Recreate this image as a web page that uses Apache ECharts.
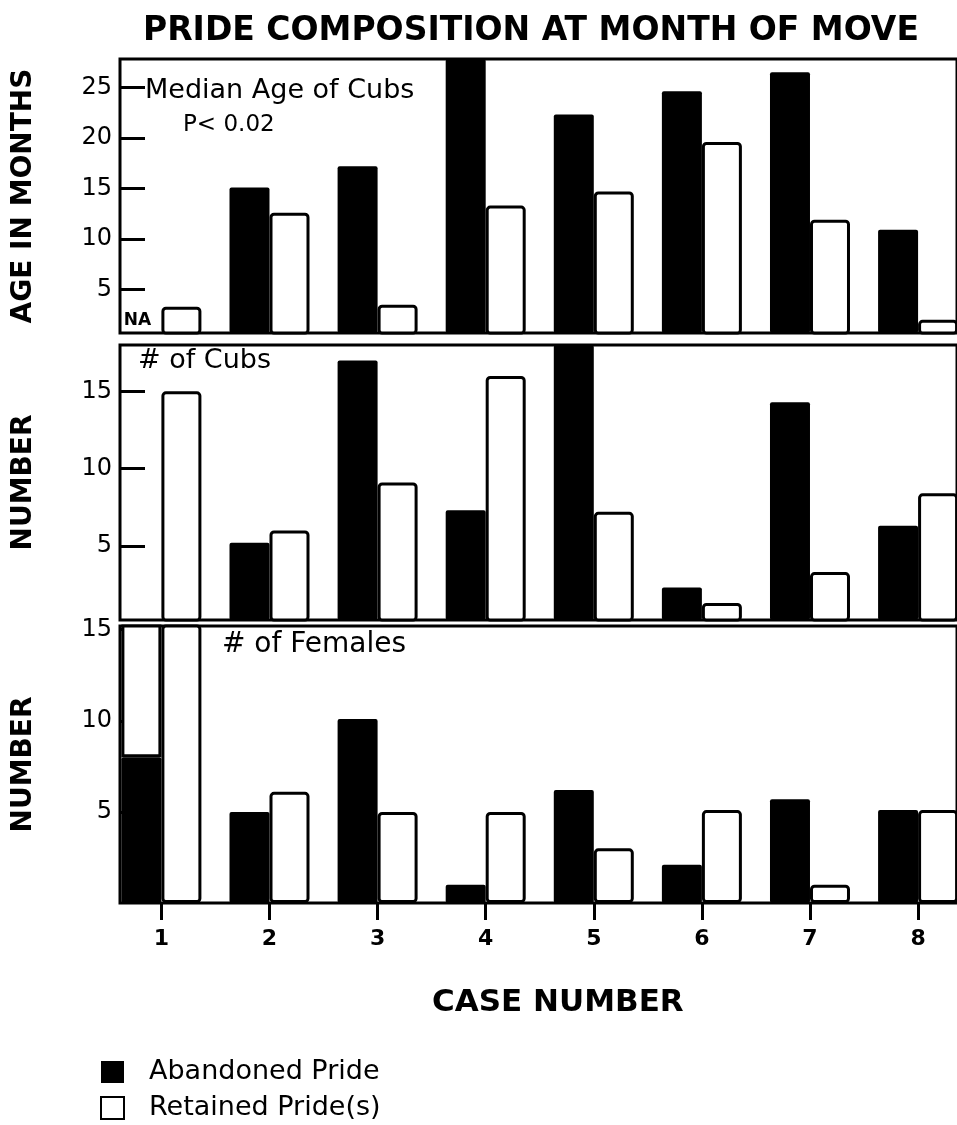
<!DOCTYPE html>
<html><head><meta charset="utf-8">
<script src="https://cdn.jsdelivr.net/npm/echarts@6/dist/echarts.min.js"></script>
<style>html,body{margin:0;padding:0;background:#fff}#c{width:957px;height:1125px}</style>
</head><body><div id="c"></div>
<script>
// ---- data ----
const cases = [1, 2, 3, 4, 5, 6, 7, 8];
const caseLabels = ['1', '2', '3', '4', '5', '6', '7', '8'];
// Median age of cubs (months); case 1 abandoned = NA
const ageAbandoned = [null, 15.1, 17.2, 29, 22.3, 24.6, 26.5, 10.9];
const ageRetained = [3.3, 12.6, 3.5, 13.3, 14.7, 19.6, 11.9, 2.0];
// Number of cubs
const cubsAbandoned = [0, 5.2, 17, 7.3, 19, 2.3, 14.3, 6.3];
const cubsRetained = [15, 6, 9.1, 16, 7.2, 1.3, 3.3, 8.4];
// Number of females
const femalesAbandoned = [8, 5, 10.1, 1, 6.2, 2.1, 5.7, 5.1];
const femalesAbandonedUpper = [9, null, null, null, null, null, null, null];
const femalesRetained = [16, 6.1, 5, 5, 3, 5.1, 1, 5.1];
// tick labels
const ageTicks = [5, 10, 15, 20, 25];
const cubTicks = [5, 10, 15];
const femaleTicks = [5, 10, 15];
const naLabel = 'NA';

const FONT = 'DejaVu Sans';
const BLACK = '#000';

// value first, case second (encode maps x <- dim 1, y <- dim 0)
function pairs(vals) { return cases.map((c, i) => [vals[i], c]); }
const ENC = { x: 1, y: 0 };

const grids = [
  { left: 120, top: 59, width: 845, height: 274 },
  { left: 120, top: 345, width: 845, height: 275 },
  { left: 120, top: 626, width: 845, height: 277 }
];
grids.forEach(g => { g.show = true; g.borderColor = BLACK; g.borderWidth = 3; g.backgroundColor = '#fff'; });

function xAx(i, showLabels) {
  return {
    type: 'value', gridIndex: i, min: 0.617, max: 8.36,
    axisLine: { show: false, onZero: false },
    splitLine: { show: false },
    axisTick: { show: showLabels, customValues: cases, length: 17, lineStyle: { color: BLACK, width: 3 } },
    axisLabel: {
      show: showLabels, customValues: cases, margin: 25,
      formatter: v => caseLabels[cases.indexOf(v)],
      fontSize: 22, fontWeight: 'bold', color: BLACK, fontFamily: FONT
    }
  };
}
function yAx(i, min, max, ticks, name) {
  return {
    type: 'value', gridIndex: i, min: min, max: max,
    axisLine: { show: false },
    splitLine: { show: false },
    axisTick: { show: true, inside: true, customValues: ticks, length: 25, lineStyle: { color: BLACK, width: 3 } },
    axisLabel: { customValues: ticks, margin: 8, fontSize: 24, color: BLACK, fontFamily: FONT },
    name: name, nameLocation: 'middle', nameRotate: 90, nameGap: 82,
    nameTextStyle: { fontSize: 28, fontWeight: 'bold', color: BLACK, fontFamily: FONT }
  };
}

const abStyle = { color: BLACK, borderRadius: 2 };
const reStyle = { color: '#fff', borderColor: BLACK, borderWidth: 3, borderRadius: 3 };
const BW = 40;

function bar(name, idx, vals, style, extra) {
  return Object.assign({
    name: name, type: 'bar', xAxisIndex: idx, yAxisIndex: idx,
    data: pairs(vals), encode: ENC, barWidth: BW, barGap: '0%', itemStyle: style,
    silent: true, animation: false
  }, extra || {});
}

const series = [
  bar('Abandoned Pride', 0, ageAbandoned, abStyle, {
    markPoint: { symbol: 'rect', symbolSize: 1, itemStyle: { color: 'transparent' },
      label: { show: true, formatter: naLabel, color: BLACK, fontSize: 17, fontWeight: 'bold', fontFamily: FONT, offset: [-4, 0] },
      data: [{ coord: [cases[0], 1.9] }] }
  }),
  bar('Retained Pride(s)', 0, ageRetained, reStyle),
  bar('Abandoned Pride', 1, cubsAbandoned, abStyle),
  bar('Retained Pride(s)', 1, cubsRetained, reStyle),
  bar('Abandoned Pride', 2, femalesAbandoned, abStyle, { stack: 'ab' }),
  bar('Abandoned Pride (upper)', 2, femalesAbandonedUpper, { color: '#fff', borderColor: BLACK, borderWidth: 3 }, { stack: 'ab' }),
  bar('Retained Pride(s)', 2, femalesRetained, reStyle)
];

const txt = (x, y, text, size, weight) => ({
  type: 'text', left: x, top: y, z: 100,
  style: { text: text, fontSize: size, fontWeight: weight || 'normal', fill: BLACK, fontFamily: FONT }
});

const option = {
  animation: false,
  backgroundColor: '#fff',
  title: [
    { text: 'PRIDE COMPOSITION AT MONTH OF MOVE', left: 138, top: 10,
      textStyle: { fontSize: 33, fontWeight: 'bold', color: BLACK, fontFamily: FONT } },
    { text: 'CASE NUMBER', left: 427, top: 982,
      textStyle: { fontSize: 31, fontWeight: 'bold', color: BLACK, fontFamily: FONT } }
  ],
  grid: grids,
  xAxis: [xAx(0, false), xAx(1, false), xAx(2, true)],
  yAxis: [
    yAx(0, 0.7, 27.8, ageTicks, 'AGE IN MONTHS'),
    yAx(1, 0.2, 18, cubTicks, 'NUMBER'),
    yAx(2, 0, 15.2, femaleTicks, 'NUMBER')
  ],
  legend: {
    data: ['Abandoned Pride', 'Retained Pride(s)'],
    orient: 'vertical', left: 100, top: 1054, height: 90, padding: 0, icon: 'rect',
    itemWidth: 23, itemHeight: 22, itemGap: 0,
    textStyle: { fontSize: 27, lineHeight: 36, color: BLACK, fontFamily: FONT, padding: [0, 0, 0, 20] },
    selectedMode: false
  },
  graphic: [
    txt(145, 77, 'Median Age of Cubs', 27),
    txt(183, 114, 'P< 0.02', 23),
    txt(138, 347, '# of Cubs', 27),
    txt(222, 631, '# of Females', 28)
  ],
  series: series
};
echarts.init(document.getElementById('c'), null, { renderer: 'canvas' }).setOption(option);
</script></body></html>
